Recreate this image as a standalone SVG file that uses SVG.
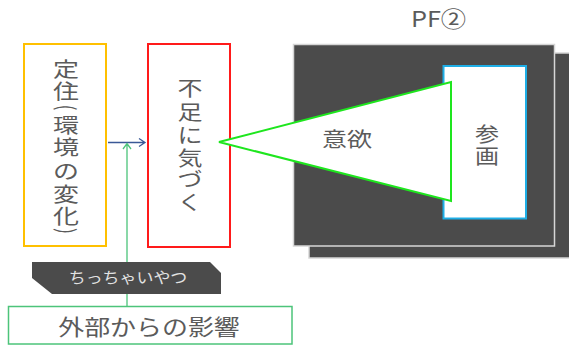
<svg xmlns="http://www.w3.org/2000/svg" width="569" height="345" viewBox="0 0 569 345">
<style>
  .t { font-family: "Noto Sans CJK JP", "Noto Sans", sans-serif; fill: #5b5b5b; text-anchor: middle; dominant-baseline: central; }
  .p { font-family: "Noto Sans CJK JP", "Noto Sans", sans-serif; fill: #5b5b5b; text-anchor: middle; font-size: 18px; }
  .v { font-size: 20px; }
  .lbl { font-family: "Noto Sans CJK JP", "Noto Sans", sans-serif; fill: #e2e2e2; text-anchor: middle; dominant-baseline: central; font-size: 15px; }
  .dark { fill: #4b4b4b; stroke: #d6d6d6; stroke-width: 1.5; }
  .conn { fill: none; stroke-width: 1.3; }
</style>
<rect width="569" height="345" fill="#ffffff"/>

<g id="pf-title">
  <text class="t" font-size="22" transform="translate(438.5,18) scale(1.15,1)">PF②</text>
</g>

<g id="pf-back">
  <rect class="dark" x="309" y="53" width="275" height="205"/>
</g>
<g id="pf-front">
  <rect class="dark" x="293.5" y="44.5" width="261" height="201.5"/>
</g>

<g id="sankaku">
  <rect x="443.5" y="66" width="82.5" height="152.5" fill="#ffffff" stroke="#1eaee6" stroke-width="2"/>
  <text class="t v" transform="translate(487,132.5) scale(1.2,1)">参</text>
  <text class="t v" transform="translate(487,155) scale(1.2,1)">画</text>
</g>

<g id="teiju">
  <rect x="24" y="44" width="82" height="202" fill="#ffffff" stroke="#ffc000" stroke-width="2"/>
  <text class="t v" transform="translate(66,68) scale(1.3,1)">定</text>
  <text class="t v" transform="translate(66,90.5) scale(1.3,1)">住</text>
  <text class="p" transform="translate(58,107.5) rotate(90) scale(1,1.3)">(</text>
  <text class="t v" transform="translate(66,124.5) scale(1.3,1)">環</text>
  <text class="t v" transform="translate(66,146.5) scale(1.3,1)">境</text>
  <text class="t v" transform="translate(66,170) scale(1.3,1)">の</text>
  <text class="t v" transform="translate(66,193.5) scale(1.3,1)">変</text>
  <text class="t v" transform="translate(66,215) scale(1.3,1)">化</text>
  <text class="p" transform="translate(58,231) rotate(90) scale(1,1.3)">)</text>
</g>

<g id="fusoku">
  <rect x="148" y="44" width="82" height="203" fill="#ffffff" stroke="#ff1a1a" stroke-width="2"/>
  <text class="t v" transform="translate(190,88) scale(1.25,1)">不</text>
  <text class="t v" transform="translate(190,112) scale(1.25,1)">足</text>
  <text class="t v" transform="translate(190,135) scale(1.25,1)">に</text>
  <text class="t v" transform="translate(190,157.5) scale(1.25,1)">気</text>
  <text class="t v" transform="translate(190,179) scale(1.25,1)">づ</text>
  <text class="t v" transform="translate(190,201.5) scale(1.25,1)">く</text>
</g>

<g id="connectors">
  <path class="conn" stroke="#3a5896" d="M108,142.5 L145,142.5 M139,138.5 L145,142.5 L139,146.5"/>
  <path class="conn" stroke="#4cc47a" d="M127,306 L127,143.5 M123,149 L127,143.5 L131,149"/>
</g>

<g id="iyoku">
  <polygon points="219,142 451,82 451,201" fill="#ffffff" stroke="#1ee61e" stroke-width="2"/>
  <text class="t v" transform="translate(347,139) scale(1.25,1)">意欲</text>
</g>

<g id="chiisai">
  <polygon points="32,262 210,262 221,273 221,294 52,294 32,278" fill="#4b4b4b"/>
  <text class="lbl" transform="translate(128,276) scale(1.13,1)">ちっちゃいやつ</text>
</g>

<g id="gaibu">
  <rect x="8.5" y="306.5" width="283.5" height="37.5" fill="#ffffff" stroke="#4cc47a" stroke-width="1.5"/>
  <text class="t" font-size="22" transform="translate(149,325) scale(1.18,1)">外部からの影響</text>
</g>
</svg>
